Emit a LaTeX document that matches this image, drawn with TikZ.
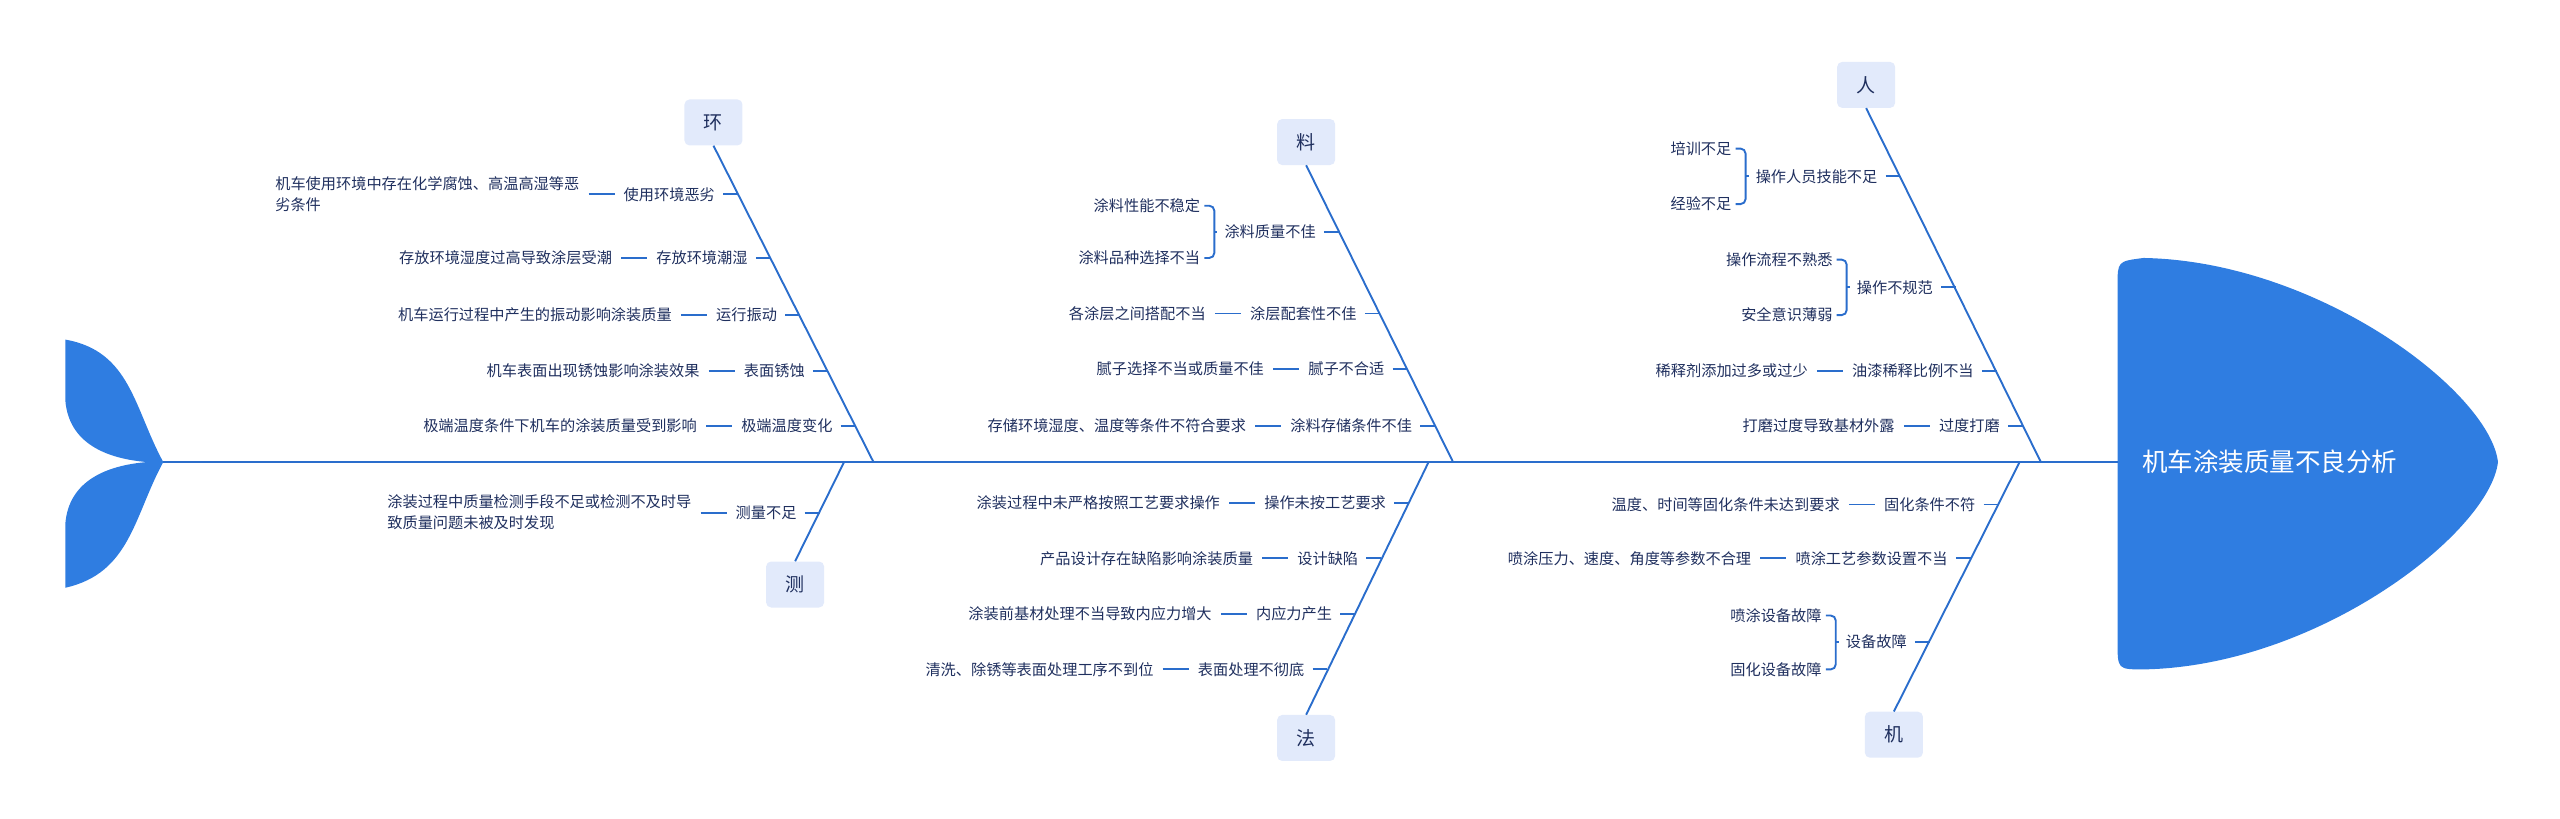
\documentclass[tikz,border=0pt]{standalone}
\usepackage{fontspec}
\setmainfont{Noto Sans CJK SC}
\definecolor{fish}{HTML}{2F7DE1}
\definecolor{lnc}{HTML}{2A6DCC}
\definecolor{txt}{HTML}{1F2F5E}
\definecolor{boxc}{HTML}{E2EAFB}
\tikzset{
 ln/.style={draw=lnc,line width=1.9pt},
 lab/.style={inner sep=0pt,text=txt,font=\fontsize{15.2}{21}\selectfont},
 cat/.style={fill=boxc,rounded corners=5pt,minimum width=58pt,minimum height=46pt,text=txt,font=\fontsize{19}{22}\selectfont}
}
\newcommand\subc[5]{%
 \coordinate (#1b) at (#3,#2);
 \node[lab,anchor=east] (#1l) at (#3-14,#2) {#4};
 \node[lab,anchor=east,align=left] (#1d) at ([xshift=-44pt]#1l.west) {#5};
 \draw[ln] ([xshift=9pt]#1d.east) -- ([xshift=-9pt]#1l.west);
 \draw[ln] ([xshift=8pt]#1l.east) -- (#1b);}
\newcommand\subb[8]{%
 \coordinate (#1b) at (#3,#2);
 \node[lab,anchor=east] (#1l) at (#3-14,#2) {#4};
 \path ([xshift=-10pt]#1l.west) coordinate (#1k) ++(-14pt,0) coordinate (#1q);
 \node[lab,anchor=east] (#1c) at (#1q |- 0,#6) {#5};
 \node[lab,anchor=east] (#1e) at (#1q |- 0,#8) {#7};
 \draw[ln,rounded corners=5pt] ([xshift=4pt]#1c.east) -| (#1k) |- ([xshift=4pt]#1e.east);
 \draw[ln] (#1k) -- ([xshift=-7pt]#1l.west);
 \draw[ln] ([xshift=8pt]#1l.east) -- (#1b);}
\begin{document}
\begin{tikzpicture}[x=1.6327pt,y=-1.6327pt]
\useasboundingbox (0,0) rectangle (1568,501.6);
% tail
\coordinate (J) at (100,283);
\fill[fish] (J) .. controls (82,250) and (80,215) .. (40,208) -- (40,245) .. controls (42,272) and (66,281) .. (90,283)
 .. controls (66,285) and (42,294) .. (40,321) -- (40,360) .. controls (80,351) and (82,316) .. (J) -- cycle;
% head
\fill[fish] (1297,175) .. controls (1297,160) .. (1313,158) .. controls (1420,160) and (1525,240) .. (1530,283)
 .. controls (1525,326) and (1420,408) .. (1313,410) .. controls (1297,410) .. (1297,393) -- cycle;
\node[anchor=west,text=white,inner sep=0pt,font=\fontsize{25.5}{28}\selectfont] (title) at (1312,283) {机车涂装质量不良分析};
\coordinate (H) at (1297,283);
\draw[ln] (J) -- (H);
% categories
\node[cat] (huan) at (437,75) {环};
\node[cat] (liao) at (800,87) {料};
\node[cat] (ren) at (1143,52) {人};
\node[cat] (ce) at (487,358) {测};
\node[cat] (fa) at (800,452) {法};
\node[cat] (ji) at (1160,450) {机};
\coordinate (s1) at (535,283); \coordinate (s2) at (890,283); \coordinate (s3) at (1250,283);
\coordinate (s4) at (517,283); \coordinate (s5) at (875,283); \coordinate (s6) at (1237,283);
\draw[ln] (huan.south) -- (s1);
\draw[ln] (liao.south) -- (s2);
\draw[ln] (ren.south) -- (s3);
\draw[ln] (ce.north) -- (s4);
\draw[ln] (fa.north) -- (s5);
\draw[ln] (ji.north) -- (s6);
% 环
\subc{a1}{119}{452}{使用环境恶劣}{机车使用环境中存在化学腐蚀、高温高湿等恶\\劣条件}
\subc{a2}{158}{472}{存放环境潮湿}{存放环境湿度过高导致涂层受潮}
\subc{a3}{193}{490}{运行振动}{机车运行过程中产生的振动影响涂装质量}
\subc{a4}{227}{507}{表面锈蚀}{机车表面出现锈蚀影响涂装效果}
\subc{a5}{261}{524}{极端温度变化}{极端温度条件下机车的涂装质量受到影响}
% 料
\subb{b1}{142}{820}{涂料质量不佳}{涂料性能不稳定}{126}{涂料品种选择不当}{158}
\subc{b2}{192}{845}{涂层配套性不佳}{各涂层之间搭配不当}
\subc{b3}{226}{862}{腻子不合适}{腻子选择不当或质量不佳}
\subc{b4}{261}{879}{涂料存储条件不佳}{存储环境湿度、温度等条件不符合要求}
% 人
\subb{c1}{108}{1164}{操作人员技能不足}{培训不足}{91}{经验不足}{125}
\subb{c2}{176}{1198}{操作不规范}{操作流程不熟悉}{159}{安全意识薄弱}{193}
\subc{c3}{227}{1223}{油漆稀释比例不当}{稀释剂添加过多或过少}
\subc{c4}{261}{1239}{过度打磨}{打磨过度导致基材外露}
% 测
\subc{d1}{314}{502}{测量不足}{涂装过程中质量检测手段不足或检测不及时导\\致质量问题未被及时发现}
% 法
\subc{e1}{308}{863}{操作未按工艺要求}{涂装过程中未严格按照工艺要求操作}
\subc{e2}{342}{846}{设计缺陷}{产品设计存在缺陷影响涂装质量}
\subc{e3}{376}{830}{内应力产生}{涂装前基材处理不当导致内应力增大}
\subc{e4}{410}{813}{表面处理不彻底}{清洗、除锈等表面处理工序不到位}
% 机
\subc{f1}{309}{1224}{固化条件不符}{温度、时间等固化条件未达到要求}
\subc{f2}{342}{1207}{喷涂工艺参数设置不当}{喷涂压力、速度、角度等参数不合理}
\subb{f3}{393}{1182}{设备故障}{喷涂设备故障}{377}{固化设备故障}{410}
\end{tikzpicture}
\end{document}
